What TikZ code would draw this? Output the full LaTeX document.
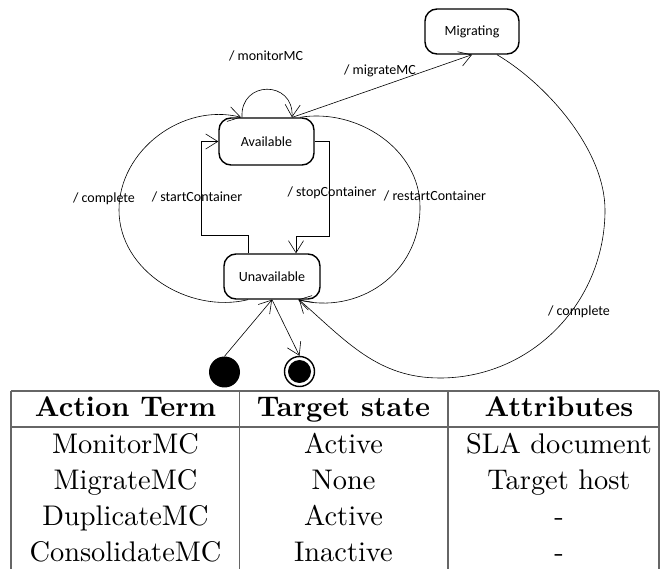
\documentclass[tikz,border=0pt]{standalone}
\usepackage{fontspec}
\usetikzlibrary{arrows.meta,calc}
\newfontfamily\diagfont{Carlito}
\newfontfamily\tabfont{lmroman10-regular.otf}[BoldFont=lmroman10-bold.otf]
\begin{document}
\begin{tikzpicture}[x=1pt,y=-1pt,
  statebox/.style={draw, line width=1.4pt, rounded corners=12pt, inner sep=0pt,
    font=\diagfont\fontsize{14}{16}\selectfont},
  arr/.style={-{Straight Barb[length=12pt,width=15pt]}, line width=0.6pt},
  lab/.style={font=\diagfont\fontsize{14}{16}\selectfont, inner sep=0pt},
  tabline/.style={draw=black!60, line width=1.5pt},
  tabtext/.style={font=\tabfont\fontsize{28.4}{34}\selectfont, anchor=base, inner sep=0pt},
  tabhead/.style={font=\tabfont\bfseries\fontsize{28.4}{34}\selectfont, anchor=base, inner sep=0pt}]
\useasboundingbox (0,0) rectangle (665,569);

% states
\node[statebox, minimum width=94pt, minimum height=45pt] (mig) at (472,31.5) {Migrating};
\node[statebox, minimum width=95pt, minimum height=47pt] (avl) at (266.5,141.5) {Available};
\node[statebox, minimum width=96pt, minimum height=45pt] (unv) at (272,276.5) {Unavailable};
\node[circle, fill=black, minimum size=31pt, inner sep=0pt] (init) at (224.5,372) {};
\node[circle, draw=black, line width=1.4pt, minimum size=30pt, inner sep=0pt] (fin) at (299.5,371.5) {};
\fill (fin.center) circle (11.5pt);

% monitorMC loop
\draw[arr] ([xshift=-24.5pt]avl.north) .. controls (240,80) and (294,80) .. ([xshift=25.5pt]avl.north);
\node[lab] (lmon) at (266,56) {/ monitorMC};

% migrateMC
\draw[arr] ([xshift=26pt]avl.north) -- (mig.south);
\node[lab] (lmig) at (380,71) {/ migrateMC};

% left complete arc
\draw[arr] ([xshift=-24pt]unv.south) .. controls (189,314) and (119,271) .. (119,210)
  .. controls (119,150) and (183,102.5) .. ([xshift=-25.5pt]avl.north);
\node[lab] (lcomp1) at (104,199) {/ complete};

% startContainer
\draw[arr] ([xshift=-24pt]unv.north) -- ++(0,-18) -- ++(-47,0) |- (avl.west);
\node[lab] (lstart) at (197,197) {/ startContainer};

% stopContainer
\draw[arr] (avl.east) -- ++(15,0) -- ++(0,94.5) -| ([xshift=24pt]unv.north);
\node[lab] (lstop) at (332,193) {/ stopContainer};

% restartContainer
\draw[arr] ([xshift=33.5pt]avl.north) .. controls (357,108) and (420,149) .. (420,207)
  .. controls (420,275) and (357,315) .. ([xshift=26pt]unv.south);
\node[lab] (lrestart) at (435,196) {/ restartContainer};

% big complete arc
\draw[arr] ([xshift=25pt]mig.south) .. controls (548,85) and (605,151) .. (605,210)
  .. controls (605,302) and (532,378) .. (440,378)
  .. controls (378,378) and (347,342) .. ([xshift=27pt]unv.south);
\node[lab] (lcomp2) at (579,312) {/ complete};

% initial / final
\draw[arr] (init.north) -- (unv.south);
\draw[arr] (unv.south) -- (fin.north);

% table
\draw[tabline] (11,391) -- (659,391);
\draw[tabline] (11,427) -- (659,427);
\draw[tabline] (11,391) -- (11,569);
\draw[tabline] (239.5,391) -- (239.5,569);
\draw[tabline] (448,391) -- (448,569);
\draw[tabline] (659,391) -- (659,569);

\node[tabhead] (h1) at (125.5,417) {Action Term};
\node[tabhead] (h2) at (343.5,417) {Target state};
\node[tabhead] (h3) at (559,417) {Attributes};

\node[tabtext] (a1) at (125.5,454) {MonitorMC};
\node[tabtext] (b1) at (343.5,454) {Active};
\node[tabtext] (c1) at (559,454) {SLA document};

\node[tabtext] (a2) at (125.5,489.5) {MigrateMC};
\node[tabtext] (b2) at (343.5,489.5) {None};
\node[tabtext] (c2) at (559,489.5) {Target host};

\node[tabtext] (a3) at (125.5,526) {DuplicateMC};
\node[tabtext] (b3) at (343.5,526) {Active};
\node[tabtext] (c3) at (559,526) {-};

\node[tabtext] (a4) at (125.5,562) {ConsolidateMC};
\node[tabtext] (b4) at (343.5,562) {Inactive};
\node[tabtext] (c4) at (559,562) {-};
\end{tikzpicture}
\end{document}
